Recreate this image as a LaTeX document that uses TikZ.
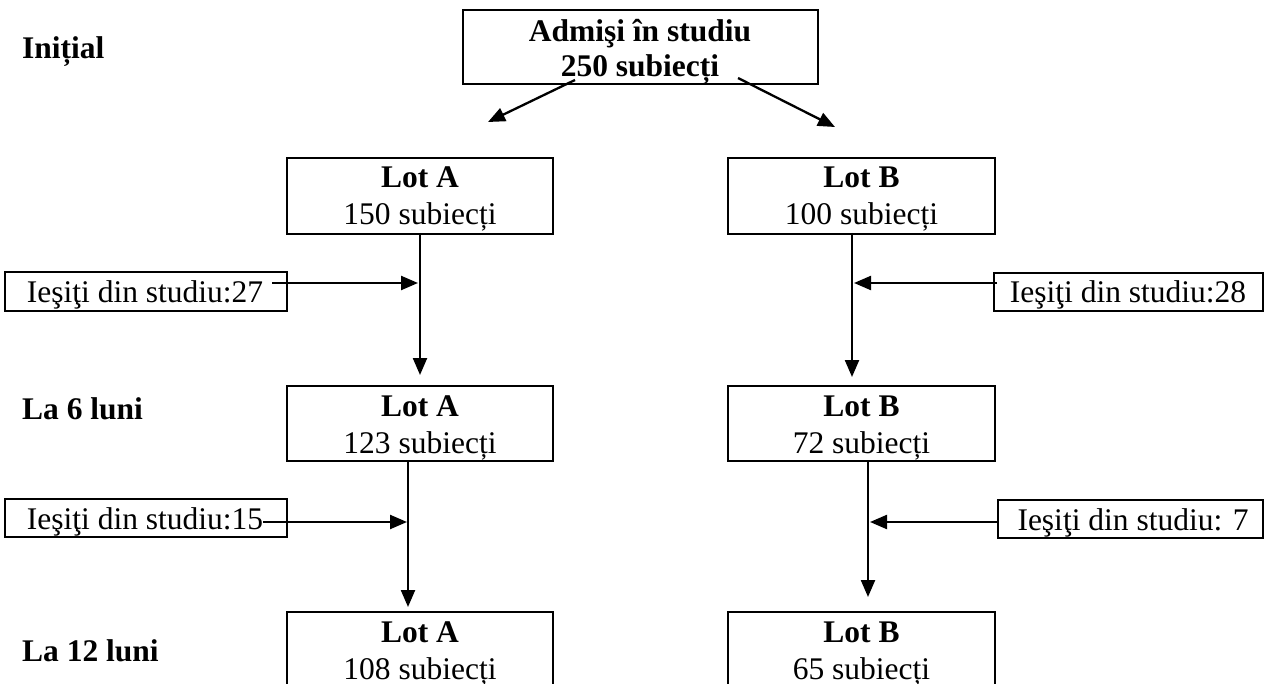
\documentclass[tikz,border=0pt]{standalone}
\usepackage{fontspec}
\setmainfont{Liberation Serif}
\usetikzlibrary{arrows.meta}
\begin{document}
\begin{tikzpicture}[x=1pt,y=-1pt,
  box/.style={draw, line width=2.6pt, inner sep=0pt},
  conn/.style={line width=2.3pt, -{Triangle[length=17pt,width=14pt]}},
  txt/.style={font=\fontsize{31.5}{37}\selectfont, inner sep=0pt, anchor=base},
  btxt/.style={font=\fontsize{31.5}{37}\selectfont\bfseries, inner sep=0pt, anchor=base}]
\useasboundingbox (0,0) rectangle (1268,684);
\clip (0,0) rectangle (1268,684);
% top box
\node[box, minimum width=355, minimum height=74] (top) at (640.5,47) {};
\node[btxt] (topt1) at (640,42) {Admişi în studiu};
\node[btxt] (topt2) at (640,77) {250 subiecți};
% row labels
\node[btxt, anchor=base west] (l0) at (22,59) {Inițial};
\node[btxt, anchor=base west] (l1) at (22,419) {La 6 luni};
\node[btxt, anchor=base west] (l2) at (22,661) {La 12 luni};
% row 1
\node[box, minimum width=266, minimum height=76] (a1) at (420,196) {};
\node[btxt] (a1t1) at (420,188) {Lot A};
\node[txt] (a1t2) at (420,225) {150 subiecți};
\node[box, minimum width=267, minimum height=76] (b1) at (861.5,196) {};
\node[btxt] (b1t1) at (861.5,188) {Lot B};
\node[txt] (b1t2) at (861.5,225) {100 subiecți};
% row 2
\node[box, minimum width=266, minimum height=75] (a2) at (420,423.5) {};
\node[btxt] (a2t1) at (420,416) {Lot A};
\node[txt] (a2t2) at (420,453) {123 subiecți};
\node[box, minimum width=267, minimum height=75] (b2) at (861.5,423.5) {};
\node[btxt] (b2t1) at (861.5,416) {Lot B};
\node[txt] (b2t2) at (861.5,453) {72 subiecți};
% row 3 (cut off at the bottom)
\node[box, minimum width=266, minimum height=100] (a3) at (420,662) {};
\node[btxt] (a3t1) at (420,642) {Lot A};
\node[txt] (a3t2) at (420,679) {108 subiecți};
\node[box, minimum width=267, minimum height=100] (b3) at (861.5,662) {};
\node[btxt] (b3t1) at (861.5,642) {Lot B};
\node[txt] (b3t2) at (861.5,679) {65 subiecți};
% side boxes
\node[box, minimum width=282, minimum height=39] (s1) at (146,291.5) {};
\node[txt] (s1t) at (145,303) {Ieşiţi din studiu:27};
\node[box, minimum width=269, minimum height=38] (s2) at (1128.5,292) {};
\node[txt] (s2t) at (1128,303) {Ieşiţi din studiu:28};
\node[box, minimum width=282, minimum height=38] (s3) at (146,518) {};
\node[txt] (s3t) at (145,529) {Ieşiţi din studiu:15};
\node[box, minimum width=265, minimum height=38] (s4) at (1130.5,519) {};
\node[txt] (s4t) at (1133,530) {Ieşiţi din studiu: 7};
% connector end points
\coordinate (tl) at (575,80);
\coordinate (tlend) at (488,122);
\coordinate (tr) at (738,78);
\coordinate (trend) at (835,127);
\coordinate (a1s) at (420,233);
\coordinate (a1e) at (420,375);
\coordinate (b1s) at (852,233);
\coordinate (b1e) at (852,377);
\coordinate (a2s) at (408,462);
\coordinate (a2e) at (408,607);
\coordinate (b2s) at (868,461);
\coordinate (b2e) at (868,597);
\coordinate (s1s) at (272,283);
\coordinate (s1e) at (418,283);
\coordinate (s2s) at (997,283);
\coordinate (s2e) at (854,283);
\coordinate (s3s) at (263,522);
\coordinate (s3e) at (407,522);
\coordinate (s4s) at (998,522);
\coordinate (s4e) at (870,522);
% connectors
\draw[conn] (tl) -- (tlend);
\draw[conn] (tr) -- (trend);
\draw[conn] (a1s) -- (a1e);
\draw[conn] (b1s) -- (b1e);
\draw[conn] (a2s) -- (a2e);
\draw[conn] (b2s) -- (b2e);
\draw[conn] (s1s) -- (s1e);
\draw[conn] (s2s) -- (s2e);
\draw[conn] (s3s) -- (s3e);
\draw[conn] (s4s) -- (s4e);
\end{tikzpicture}
\end{document}
